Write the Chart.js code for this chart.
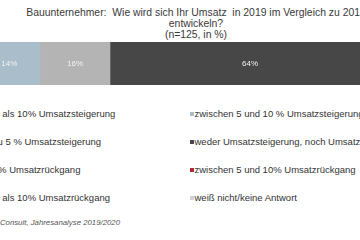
<!DOCTYPE html>
<html>
<head>
<meta charset="utf-8">
<script src="https://cdn.jsdelivr.net/npm/chart.js@4"></script>
<style>
  html, body { margin: 0; padding: 0; background: #fff; }
  body { width: 360px; height: 240px; overflow: hidden; position: relative; font-family: "Liberation Sans", Arial, sans-serif; }
  #title { position: absolute; top: 7px; left: -54px; width: 500px; text-align: center; font-size: 10.4px; line-height: 11px; color: #3a3a3a; white-space: pre; }
  #barBox { position: absolute; top: 42px; left: -34px; width: 460px; height: 43px; }
  #legend { position: absolute; left: 0; top: 0; }
  .item { position: absolute; height: 12px; line-height: 12px; font-size: 9.5px; color: #333; white-space: nowrap; }
  .item i { position: absolute; left: 0; top: 4px; width: 4px; height: 4px; }
  .item span { position: absolute; left: 5px; top: 0; }
  #source { position: absolute; right: 240px; top: 218px; font-size: 7.8px; font-style: italic; color: #555; white-space: nowrap; }
</style>
</head>
<body>
<div id="title"></div>
<div id="barBox"><canvas id="umsatzChart" width="460" height="43"></canvas></div>
<div id="legend"></div>
<div id="source">Quelle: BauInfoConsult, Jahresanalyse 2019/2020</div>

<script>
console.log("Umsatz chart loaded");

// ===============================
// Data
// ===============================
const titleLines = [
  "Bauunternehmer:  Wie wird sich Ihr Umsatz  in 2019 im Vergleich zu 2018",
  "entwickeln?",
  "(n=125, in %)"
];

const categories = ["Umsatz 2019"];

const seriesLabels = [
  "mehr als 10% Umsatzsteigerung",
  "zwischen 5 und 10 % Umsatzsteigerung",
  "bis zu 5 % Umsatzsteigerung",
  "weder Umsatzsteigerung, noch Umsatzrückgang",
  "bis 5% Umsatzrückgang",
  "zwischen 5 und 10% Umsatzrückgang",
  "mehr als 10% Umsatzrückgang",
  "weiß nicht/keine Antwort"
];

const seriesValues = [2, 14, 16, 64, 2, 1, 0, 1];

const seriesColors = [
  "#5d7f94",
  "#a9bdcb",
  "#b4b4b4",
  "#474747",
  "#e3a1a6",
  "#b02a3b",
  "#7a1624",
  "#d2d2d2"
];

document.getElementById("title").textContent = titleLines.join("\n");

// ===============================
// Percent labels inside segments
// ===============================
const segmentLabels = {
  id: "segmentLabels",
  afterDatasetsDraw(chart) {
    const ctx = chart.ctx;
    ctx.save();
    ctx.font = "8px 'Liberation Sans', Arial, sans-serif";
    ctx.fillStyle = "#f2f2f2";
    ctx.textAlign = "center";
    ctx.textBaseline = "middle";
    chart.data.datasets.forEach((ds, i) => {
      const v = ds.data[0];
      if (!v) return;
      const bar = chart.getDatasetMeta(i).data[0];
      const x = (bar.x + bar.base) / 2;
      ctx.fillText(v + "%", x, bar.y);
    });
    ctx.restore();
  }
};

// ===============================
// Stacked bar
// ===============================
const chart = new Chart(document.getElementById("umsatzChart"), {
  type: "bar",
  data: {
    labels: categories,
    datasets: seriesLabels.map((label, i) => ({
      label,
      data: [seriesValues[i]],
      backgroundColor: seriesColors[i],
      borderWidth: 0,
      barPercentage: 1,
      categoryPercentage: 1
    }))
  },
  options: {
    indexAxis: "y",
    responsive: false,
    animation: false,
    layout: { padding: { left: 4, right: 18.5, top: 0, bottom: 0 } },
    plugins: {
      legend: { display: false },
      tooltip: { enabled: false }
    },
    scales: {
      x: { stacked: true, min: 0, max: 100, display: false },
      y: { stacked: true, display: false }
    }
  },
  plugins: [segmentLabels]
});

// ===============================
// Legend (two columns, row by row)
// ===============================
const legendEl = document.getElementById("legend");
const items = Chart.defaults.plugins.legend.labels.generateLabels(chart);
items.forEach((it, i) => {
  const row = Math.floor(i / 2);
  const col = i % 2;
  const div = document.createElement("div");
  div.className = "item";
  div.style.left = (col === 0 ? -27 : 189.5) + "px";
  div.style.top = (107.5 + row * 28.2) + "px";
  div.innerHTML = `<i style="background:${it.fillStyle}"></i><span>${it.text}</span>`;
  legendEl.appendChild(div);
});
</script>
</body>
</html>
